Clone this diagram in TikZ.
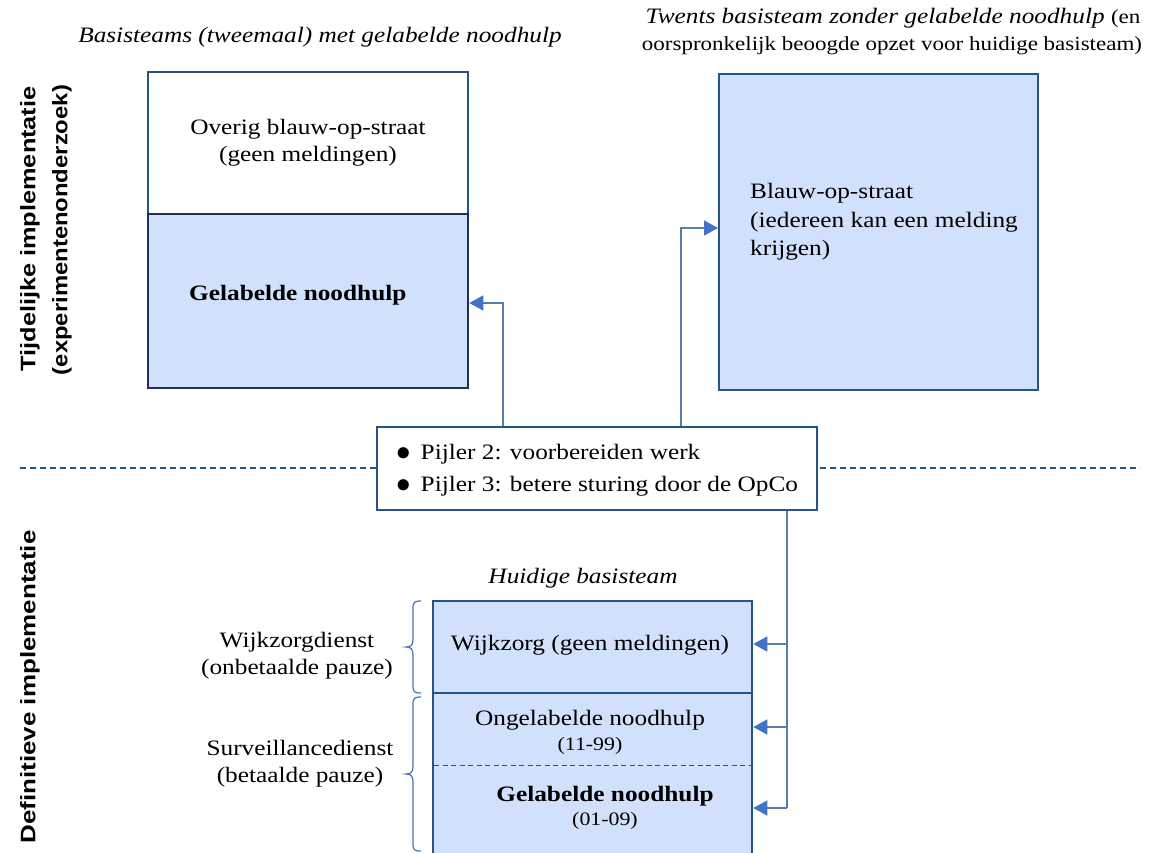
\documentclass[tikz,border=0pt]{standalone}
\usepackage{fontspec}
\usepackage{graphicx}
\setmainfont{Liberation Serif}[FakeStretch=1.15]
\newfontfamily\labfont{Liberation Sans}
\usetikzlibrary{arrows.meta}
\definecolor{boxfill}{RGB}{209,224,251}
\definecolor{boxline}{RGB}{38,84,134}
\definecolor{darkline}{RGB}{30,48,88}
\definecolor{conn}{RGB}{84,126,176}
\definecolor{tipc}{RGB}{68,114,196}
\newcommand{\bigbul}{\raisebox{-1.5pt}{\scalebox{1.4}{$\bullet$}}}
\tikzset{
  blk/.style={draw=boxline, line width=2pt, inner sep=0pt},
  txt/.style={font=\fontsize{22}{27}\selectfont, align=center, inner sep=0pt},
  smalltxt/.style={font=\fontsize{19}{22}\selectfont, inner sep=0pt},
  conline/.style={draw=conn, line width=1.3pt},
  arr/.style={conline, -{Triangle[length=14pt,width=15pt,color=tipc]}},
  brc/.style={draw=tipc, line width=1.2pt},
  sidelab/.style={rotate=90, inner sep=0pt, font=\labfont\bfseries\fontsize{21}{24}\selectfont}
}
\begin{document}
\begin{tikzpicture}[x=1pt,y=-1pt]
\useasboundingbox (0,0) rectangle (1149,852);
\clip (0,0) rectangle (1149,852);
% dashed separator
\coordinate (dl) at (20,468);
\coordinate (dr) at (1140,468);
\draw[boxline, line width=1.2pt, dash pattern=on 6pt off 4pt] (dl) -- (dr);
% titles
\node[txt, font=\fontsize{22}{27}\selectfont\itshape] (t1) at (320,37) {Basisteams (tweemaal) met gelabelde noodhulp};
\node[txt] (t2) at (893,18) {\textit{Twents basisteam zonder gelabelde noodhulp} {\fontsize{20}{22}\selectfont(en}};
\node[txt, font=\fontsize{20}{22}\selectfont] (t3) at (892,46) {oorspronkelijk beoogde opzet voor huidige basisteam)};
% top left box
\node[blk, fill=white, minimum width=320pt, minimum height=142pt] (tlA) at (308,143) {};
\node[blk, draw=darkline, line width=2.5pt, fill=boxfill, minimum width=320pt, minimum height=174pt] (tlB) at (308,301) {};
\node[txt] (tlAt) at (308,143) {Overig blauw-op-straat\\(geen meldingen)};
\node[txt, font=\fontsize{22}{27}\selectfont\bfseries, anchor=west] (tlBt) at (189,295) {Gelabelde noodhulp};
% top right box
\node[blk, fill=boxfill, minimum width=319pt, minimum height=316pt] (tr) at (878.5,232) {};
\node[txt, font=\fontsize{22}{28.5}\selectfont, align=left, anchor=west] (trt) at (750,222) {Blauw-op-straat\\(iedereen kan een melding\\krijgen)};
% center box
\node[draw=boxline, line width=1.3pt, fill=white, minimum width=440pt, minimum height=83pt, inner sep=0pt] (cb) at (597,468.5) {};
\node[txt, font=\fontsize{22}{32}\selectfont, align=left, anchor=west] (cbt) at (396,470) {\bigbul\hspace{10pt}Pijler 2: voorbereiden werk\\\bigbul\hspace{10pt}Pijler 3: betere sturing door de OpCo};
% bottom box
\node[txt, font=\fontsize{22}{27}\selectfont\itshape] (hb) at (583,578) {Huidige basisteam};
\node[blk, line width=2.5pt, fill=boxfill, minimum width=319pt, minimum height=92pt] (bA) at (592.5,647) {};
\node[blk, line width=2.5pt, fill=boxfill, minimum width=319pt, minimum height=190pt] (bB) at (592.5,788) {};
\coordinate (dvl) at (434,765);
\coordinate (dvr) at (751,765);
\draw[boxline, line width=1pt, dash pattern=on 5pt off 3.5pt] (dvl) -- (dvr);
\node[txt] (bAt) at (590,645) {Wijkzorg (geen meldingen)};
\node[txt] (bBt1) at (590,720) {Ongelabelde noodhulp};
\node[smalltxt] (bBt2) at (590,746) {(11-99)};
\node[txt, font=\fontsize{22}{27}\selectfont\bfseries] (bBt3) at (605,796) {Gelabelde noodhulp};
\node[smalltxt] (bBt4) at (605,821) {(01-09)};
% side labels
\node[txt] (wz) at (297,656) {Wijkzorgdienst\\(onbetaalde pauze)};
\node[txt] (sv) at (300,764) {Surveillancedienst\\(betaalde pauze)};
\draw[brc] (421,601) .. controls (414,601) and (413,602) .. (413,609) -- (413,639) .. controls (413,645) and (411,647) .. (406,647) .. controls (411,647) and (413,649) .. (413,655) -- (413,685) .. controls (413,692) and (414,693) .. (421,693);
\draw[brc] (421,697) .. controls (414,697) and (413,698) .. (413,705) -- (413,766) .. controls (413,772) and (411,774) .. (406,774) .. controls (411,774) and (413,776) .. (413,782) -- (413,843) .. controls (413,850) and (414,851) .. (421,851);
% vertical labels
\node[sidelab] (v1) at (30,229) {\resizebox{285pt}{\height}{Tijdelijke implementatie}};
\node[sidelab] (v2) at (62,230) {\resizebox{290pt}{\height}{(experimentenonderzoek)}};
\node[sidelab] (v3) at (30,687) {\resizebox{313pt}{\height}{Definitieve implementatie}};
% connectors
\coordinate (c1) at (503,303);
\coordinate (c2) at (681,228);
\coordinate (c3) at (787,644);
\coordinate (c4) at (787,727);
\coordinate (c5) at (787,808);
\draw[arr] (cb.north -| c1) -- (c1) -- (c1 -| tlB.east);
\draw[arr] (cb.north -| c2) -- (c2) -- (c2 -| tr.west);
\draw[conline] (cb.south -| c3) -- (c5);
\draw[arr] (c3) -- (c3 -| bA.east);
\draw[arr] (c4) -- (c4 -| bB.east);
\draw[arr] (c5) -- (c5 -| bB.east);
\end{tikzpicture}
\end{document}
